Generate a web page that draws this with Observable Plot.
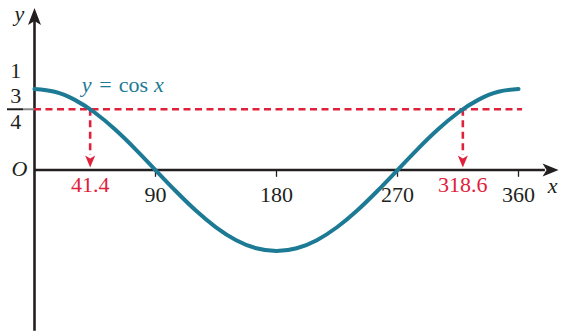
<!DOCTYPE html>
<html><head><meta charset="utf-8">
<script src="https://cdn.jsdelivr.net/npm/d3@7"></script>
<script src="https://cdn.jsdelivr.net/npm/@observablehq/plot@0.6"></script>
<style>body{margin:0;background:#fff} svg{display:block}</style>
</head><body><div id="chart"></div>
<script>
// ---- data ----
const curveX = [0,15,30,45,60,75,90,105,120,135,150,165,180,195,210,225,240,255,270,285,300,315,330,345,360];
const curveY = [1,0.966,0.866,0.707,0.5,0.259,0,-0.259,-0.5,-0.707,-0.866,-0.966,-1,-0.966,-0.866,-0.707,-0.5,-0.259,0,0.259,0.5,0.707,0.866,0.966,1];
const xTicks = [90, 180, 270, 360];
const xTickLabels = ["90", "180", "270", "360"];
const level = 0.75;
const solX = [41.4, 318.6];
const solLabels = ["41.4", "318.6"];
const xAxisSpan = [0, 380];
const xArrowTip = [389.8];
const yAxisSpan = [-1.99, 1.85];
const yArrowTip = [2.0];
const levelSpan = [0, 363];
const solSpan = [0.75, 0.18];
const solTip = [0.03];
const fracBar = [-20.1, -8.2];
const labelX = -14;
const axisNameX = [-11.2];
const axisNameY = [1.93];
const xNamePos = [385.3, -0.2];
const eqnParts = ["y", "=", "cos", "x"];
const eqnX = [38.7, 52.8, 73.6, 92.6];
const eqnItalic = [true, false, false, true];
const eqnY = 1.055;

// ---- styles ----
const ink = "#231f20", teal = "#1c7a94", red = "#e0213b";
const font = "Liberation Serif, Times New Roman, serif";

const arrowRight = {draw(c){c.moveTo(0,0);c.lineTo(-16,-6.5);c.lineTo(-12,0);c.lineTo(-16,6.5);c.closePath();}};
const arrowUp = {draw(c){c.moveTo(0,0);c.lineTo(6.5,17);c.lineTo(0,13);c.lineTo(-6.5,17);c.closePath();}};
const arrowDown = {draw(c){c.moveTo(0,0);c.lineTo(5,-12);c.lineTo(0,-9);c.lineTo(-5,-12);c.closePath();}};

const curve = curveX.map((x, i) => ({x, y: curveY[i]}));
const eqn = eqnParts.map((t, i) => ({t, x: eqnX[i], it: eqnItalic[i]}));
const txt = {fontFamily: font, fontSize: 22};

const chart = Plot.plot({
  width: 561, height: 334,
  marginLeft: 34, marginRight: 43, marginTop: 0, marginBottom: 0,
  style: {background: "#fff", fontFamily: font},
  x: {domain: [0, 360], axis: null},
  y: {domain: [-2.031, 2.093], axis: null},
  marks: [
    // axes
    Plot.ruleY([0], {x1: xAxisSpan[0], x2: xAxisSpan[1], stroke: ink, strokeWidth: 2.6}),
    Plot.ruleX([0], {y1: yAxisSpan[0], y2: yAxisSpan[1], stroke: ink, strokeWidth: 2.6}),
    Plot.dot(xArrowTip, {x: d => d, y: () => 0, symbol: arrowRight, fill: ink, stroke: "none"}),
    Plot.dot(yArrowTip, {x: () => 0, y: d => d, symbol: arrowUp, fill: ink, stroke: "none"}),
    Plot.ruleX(xTicks, {y1: 0, y2: -0.09, stroke: ink, strokeWidth: 1.3}),
    // fraction tick on y axis
    Plot.ruleY([level], {x1: fracBar[1], x2: 0, stroke: "#8a8a8a", strokeWidth: 2}),
    Plot.ruleY([level], {x1: fracBar[0], x2: fracBar[1], stroke: ink, strokeWidth: 2}),
    // dashed level and solution drops
    Plot.ruleY([level], {x1: levelSpan[0], x2: levelSpan[1], stroke: red, strokeWidth: 2.6, strokeDasharray: "7,4.5"}),
    Plot.ruleX(solX, {y1: solSpan[0], y2: solSpan[1], stroke: red, strokeWidth: 2.6, strokeDasharray: "7,4.5"}),
    Plot.dot(solX, {x: d => d, y: () => solTip[0], symbol: arrowDown, fill: red, stroke: "none"}),
    // curve
    Plot.line(curve, {x: "x", y: "y", curve: "natural", stroke: teal, strokeWidth: 4, strokeLinecap: "round"}),
    // tick labels
    Plot.text(xTicks, {x: d => d, y: () => 0, text: (d, i) => xTickLabels[i], dy: 24.5, fill: ink, ...txt}),
    Plot.text(solX, {x: d => d, y: () => 0, text: (d, i) => solLabels[i], dy: 14.5, fill: red, ...txt}),
    Plot.text(["1"], {x: () => labelX, y: () => 1, text: d => d, dy: -18.5, fill: ink, ...txt}),
    Plot.text(["3"], {x: () => labelX, y: () => level, text: d => d, dy: -13.7, fill: ink, ...txt}),
    Plot.text(["4"], {x: () => labelX, y: () => level, text: d => d, dy: 12.3, fill: ink, ...txt}),
    // axis names
    Plot.text(["y"], {x: () => axisNameX[0], y: () => axisNameY[0], text: d => d, fill: ink, fontStyle: "italic", ...txt}),
    Plot.text(["O"], {x: () => axisNameX[0], y: () => 0, text: d => d, dy: -1.5, fill: ink, fontStyle: "italic", ...txt}),
    Plot.text(["x"], {x: () => xNamePos[0], y: () => xNamePos[1], text: d => d, fill: ink, fontStyle: "italic", ...txt}),
    // equation label
    Plot.text(eqn.filter(d => d.it), {x: "x", y: () => eqnY, text: "t", fill: teal, fontStyle: "italic", ...txt}),
    Plot.text(eqn.filter(d => !d.it), {x: "x", y: () => eqnY, text: "t", fill: teal, ...txt})
  ]
});
document.getElementById("chart").appendChild(chart);
</script>
</body></html>
